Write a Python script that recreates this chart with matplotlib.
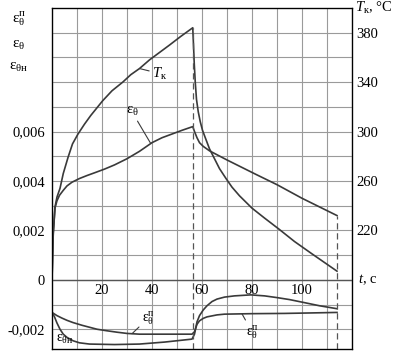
import numpy as np
import matplotlib
matplotlib.use('Agg')
import matplotlib.pyplot as plt

plt.rcParams['font.family'] = ['Liberation Serif', 'DejaVu Serif']
plt.rcParams['mathtext.fontset'] = 'custom'
plt.rcParams['mathtext.rm'] = 'Liberation Serif'
plt.rcParams['mathtext.it'] = 'Liberation Serif:italic'

# total strain eps_theta (units of 1e-3)
t_eps = [0, 0.5, 1.2, 2, 3, 4.5, 6, 8, 11, 14, 17, 21, 25, 30, 35, 40, 44, 48,
         52, 56.3, 57, 58, 59, 60.5, 63, 70, 81.5, 90, 100, 114]
eps = [0, 1.86, 2.91, 3.2, 3.42, 3.62, 3.8, 3.95, 4.1, 4.22, 4.33, 4.48, 4.65,
       4.9, 5.2, 5.55, 5.75, 5.9, 6.05, 6.2, 6.0, 5.75, 5.55, 5.4, 5.22, 4.85,
       4.27, 3.85, 3.3, 2.6]

# temperature T_k, deg C
t_T = [0, 0.5, 1.2, 2, 3.2, 4.5, 6.4, 8.2, 10.4, 13, 15.5, 17.9, 20.3, 24,
       28.3, 31.5, 35, 39, 43, 47, 51.5, 56.3, 56.6, 56.9, 57.3, 57.8, 58.5,
       59.3, 60.2, 61.5, 63, 65, 67, 69.6, 72, 75, 80, 85, 90.8, 97, 104, 109, 114]
T_k = [180, 218, 239, 247, 254, 266, 279, 290, 298, 306, 313, 319, 325, 333,
       340, 346, 351, 358, 364, 370, 377, 384, 370, 355, 340, 326, 316,
       308, 301, 294, 286, 278, 270, 262, 255, 248, 238, 230, 221, 211, 201, 194, 187]

# eps_theta^p (units of 1e-3)
t_p = [0, 2, 4, 6, 8.4, 12, 15, 18, 21.8, 26, 30, 35, 45, 56, 57, 58, 59, 60.5,
       62, 66, 69, 80, 93, 104, 114]
eps_p = [-1.32, -1.45, -1.55, -1.64, -1.73, -1.84, -1.92, -2.0, -2.06, -2.12,
         -2.17, -2.2, -2.2, -2.2, -2.1, -1.8, -1.66, -1.56, -1.5, -1.42, -1.39,
         -1.37, -1.36, -1.34, -1.32]

# eps_theta_n (units of 1e-3)
t_n = [0, 1, 2, 3.2, 4.5, 6, 8.5, 11, 15, 25, 35, 45, 56, 57, 58, 59, 60.5, 62,
       64, 66, 69, 73, 79.5, 85, 90, 95, 100.8, 107, 114]
eps_n = [-1.32, -1.5, -1.75, -2.0, -2.2, -2.33, -2.47, -2.55, -2.6, -2.62, -2.6,
         -2.52, -2.4, -2.2, -1.7, -1.45, -1.22, -1.05, -0.88, -0.78, -0.7, -0.65,
         -0.61, -0.65, -0.72, -0.8, -0.92, -1.05, -1.17]

x_labels = [20, 40, 60, 80, 100]
left_ticks = [-0.002, 0, 0.002, 0.004, 0.006]
right_ticks = [220, 260, 300, 340, 380]

t_eps = np.array(t_eps); eps = np.array(eps) * 1e-3
t_p = np.array(t_p); eps_p = np.array(eps_p) * 1e-3
t_n = np.array(t_n); eps_n = np.array(eps_n) * 1e-3
t_T = np.array(t_T); T_k = np.array(T_k)

ylo, yhi = -0.0028, 0.011
def to_T(e):
    return 300 + (e - 0.006) * 20000

def fmt(v):
    if abs(v) < 1e-9:
        return '0'
    return ('%.3f' % v).replace('.', ',')

fig = plt.figure(figsize=(4.01, 3.56), dpi=100)
ax = fig.add_axes([52/401, 1 - 349/356, 300/401, 341/356])
ax.set_xlim(0, 120)
ax.set_ylim(ylo, yhi)
ax2 = ax.twinx()
ax2.set_ylim(to_T(ylo), to_T(yhi))

# grid
ax.set_xticks(np.arange(0, 121, 10))
ax.set_yticks(np.arange(-2, 11) * 1e-3)
ax.grid(True, color='#9a9a9a', lw=0.8)
ax.set_xticklabels([])
ax.set_yticklabels([fmt(v) if any(abs(v - l) < 1e-9 for l in left_ticks)
                    else '' for v in ax.get_yticks()])
ax.yaxis.set_tick_params(length=0, labelsize=10.5, pad=5)
ax.xaxis.set_tick_params(length=0)
ax.axhline(0, color='#555555', lw=1.0)
ax2.set_yticks(right_ticks)
ax2.yaxis.set_tick_params(length=0, labelsize=10.5, pad=3)
for s in ax.spines.values():
    s.set_color('#555555')
    s.set_linewidth(1.0)

lc = '#3a3a3a'
ax.plot(t_eps, eps, color=lc, lw=1.2)
ax.plot(t_p, eps_p, color=lc, lw=1.2)
ax.plot(t_n, eps_n, color=lc, lw=1.2)
ax2.plot(t_T, T_k, color=lc, lw=1.2)

# dashed verticals
i_pk = np.argmax(T_k)
ax2.vlines(t_T[i_pk], to_T(ylo), T_k[i_pk], colors='#555555', linestyles=(0, (5, 3)), lw=0.9)
ax.vlines(t_eps[-1], ylo, eps[-1], colors='#555555', linestyles=(0, (5, 3)), lw=0.9)

# x tick labels inside the plot
for v in x_labels:
    ax.text(v, -0.00045, str(v), ha='center', va='center', fontsize=10.5)

ax.text(1.02, (0 - ylo) / (yhi - ylo), r'$t$, с', transform=ax.transAxes,
        ha='left', va='center', fontsize=10.5)
ax.text(1.01, 1.0, r'$T_{\mathrm{к}}$, °C', transform=ax.transAxes,
        ha='left', va='center', fontsize=10.5)

# stacked legend on the left
for yy, s in [(0.0105, r'$\mathrm{ε}_{\mathrm{θ}}^{\mathrm{п}}$'),
              (0.0095, r'$\mathrm{ε}_{\mathrm{θ}}$'),
              (0.0086, r'$\mathrm{ε}_{\mathrm{θн}}$')]:
    ax.text(-0.11, yy, s, transform=ax.get_yaxis_transform(), ha='center',
            va='center', fontsize=11)

# curve labels with leaders
ap = dict(arrowstyle='-', color=lc, lw=0.8, shrinkA=0, shrinkB=0)
ax2.annotate(r'$T_{\mathrm{к}}$', xy=(35, np.interp(35, t_T, T_k)), xytext=(43, 347),
             fontsize=10.5, ha='center', va='center', arrowprops=ap)
ax.annotate(r'$\mathrm{ε}_{\mathrm{θ}}$', xy=(39.5, np.interp(39.5, t_eps, eps)),
            xytext=(32, 0.0068), fontsize=10.5, ha='center', va='center', arrowprops=ap)
ax.annotate(r'$\mathrm{ε}_{\mathrm{θ}}^{\mathrm{п}}$', xy=(32, np.interp(32, t_p, eps_p)),
            xytext=(38.5, -0.00155), fontsize=10, ha='center', va='center', arrowprops=ap)
ax.annotate(r'$\mathrm{ε}_{\mathrm{θ}}^{\mathrm{п}}$', xy=(76, np.interp(76, t_p, eps_p)),
            xytext=(80, -0.0021), fontsize=10, ha='center', va='center', arrowprops=ap)
ax.text(5, -0.0024, r'$\mathrm{ε}_{\mathrm{θн}}$', fontsize=10, ha='center', va='center')

fig.savefig('out.png', dpi=100)
